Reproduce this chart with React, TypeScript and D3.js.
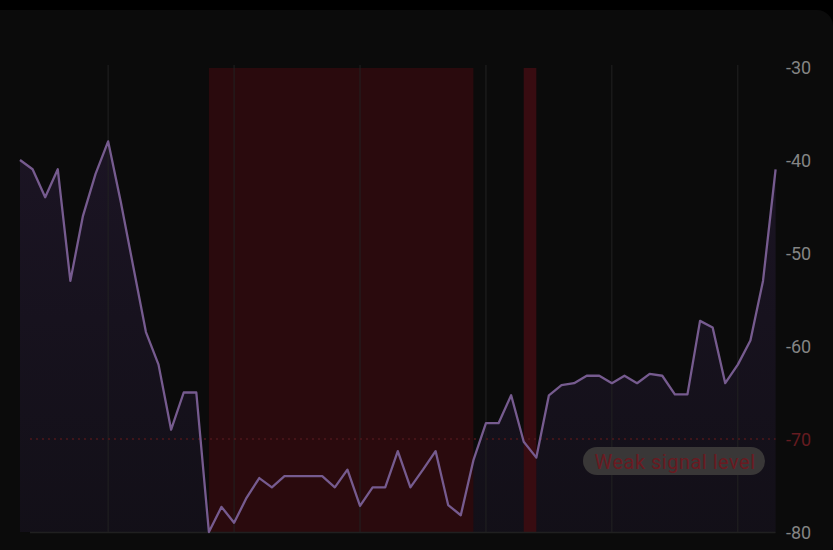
import React from "react";
import * as d3 from "d3";

const signal: number[] = [
  -40, -41, -44, -41, -53, -46, -41.5, -38, -44.5, -51.5, -58.5, -62, -69, -65, -65,
  -80, -77.3, -79, -76.3, -74.2, -75.2, -74, -74, -74, -74, -75.2, -73.3, -77.2, -75.2, -75.2,
  -71.3, -75.2, -73.3, -71.3, -77.1, -78.2, -72.3, -68.3, -68.3, -65.3, -70.3, -72, -65.3, -64.2, -64,
  -63.2, -63.2, -64, -63.2, -64, -63, -63.2, -65.2, -65.2, -57.3, -58, -64, -62, -59.4, -53, -41,
];
const yTicks: number[] = [-30, -40, -50, -60, -70, -80];
const gridIdx: number[] = [7, 17, 27, 37, 47, 57];
const weakBands: [number, number][] = [[15, 36], [40, 41]];
const weakLevel = -70;
const weakLabel = "Weak signal level";

export default function App() {
  const W = 833, H = 550;
  const x = d3.scaleLinear().domain([0, signal.length - 1]).range([20, 775.6]);
  const y = d3.scaleLinear().domain([-80, -30]).range([532, 67]);
  const line = d3.line<number>().x((_, i) => x(i)).y((d) => y(d));
  const area = d3.area<number>().x((_, i) => x(i)).y0(y(-80)).y1((d) => y(d));
  const font = "Roboto, 'Noto Sans', sans-serif";
  return (
    <div style={{ position: "absolute", left: 0, top: 0, width: W, height: H }}>
      <svg width={W} height={H} style={{ display: "block" }}>
        <defs>
          <linearGradient id="ag" x1="0" y1="0" x2="0" y2="1">
            <stop offset="0%" stopColor="#1e1628" stopOpacity={0.85} />
            <stop offset="100%" stopColor="#15111c" stopOpacity={0.75} />
          </linearGradient>
        </defs>
        <rect x={0} y={0} width={W} height={H} fill="#000" />
        <rect x={-20} y={10} width={W + 20} height={H} rx={16} fill="#0b0b0b" />
        <path d={area(signal) || ""} fill="url(#ag)" />
        {weakBands.map(([a, b], k) => (
          <rect key={k} x={x(a)} y={y(-30) + 1} width={x(b) - x(a)} height={y(-80) - y(-30) - 1}
            fill={k === 0 ? "#2a0a0d" : "#380c11"} />
        ))}
        {gridIdx.map((i) => (
          <line key={i} x1={x(i)} x2={x(i)} y1={y(-30) - 2} y2={y(-80)} stroke="#222" strokeWidth={1} />
        ))}
        <line x1={x(0) + 10} x2={x(signal.length - 1)} y1={y(-80) + 0.5} y2={y(-80) + 0.5} stroke="#202020" strokeWidth={1.5} />
        <line x1={x(0) + 10} x2={x(signal.length - 1)} y1={y(weakLevel)} y2={y(weakLevel)}
          stroke="#4e171b" strokeWidth={1.5} strokeDasharray="2 4" />
        <path d={line(signal) || ""} fill="none" stroke="#765b8f" strokeWidth={2.3} strokeLinejoin="round" />
        {yTicks.map((t) => (
          <text key={t} x={786} y={y(t) + 6.5} fontFamily={font} fontSize={18}
            fill={t === weakLevel ? "#651b20" : "#848484"}>{t}</text>
        ))}
        <rect x={583} y={447} width={182} height={28} rx={14} fill="#393737" />
        <text x={675} y={469} textAnchor="middle" fontFamily={font} fontSize={20} letterSpacing={0.5} fill="#6a1a21">{weakLabel}</text>
      </svg>
    </div>
  );
}
